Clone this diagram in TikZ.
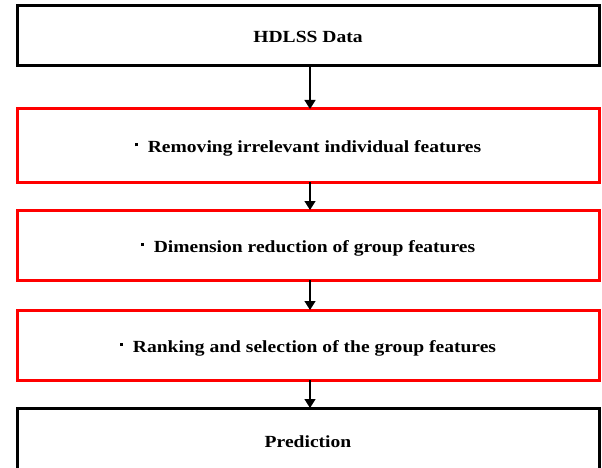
\documentclass[tikz,border=0pt]{standalone}
\usepackage{fontspec}
\setmainfont{Liberation Serif}[FakeStretch=1.15]
\usetikzlibrary{arrows.meta,positioning}

\newcommand{\sqbullet}{\raisebox{0.8ex}{\rule{3pt}{3pt}}\hspace{10pt}}

\begin{document}
\begin{tikzpicture}[
  x=1pt, y=1pt,
  font=\fontsize{17}{20}\selectfont\bfseries,
  box/.style={draw=black, line width=3pt, minimum width=582pt, outer sep=0pt, align=center, text height=14pt, text depth=0pt},
  redbox/.style={box, draw=red},
  arr/.style={-{Triangle[width=11pt,length=9pt]}, line width=1.3pt}
]
  \useasboundingbox (0,0) rectangle (602,-468);

  \node[box, minimum height=60pt] (data) at (308,-36) {HDLSS Data};
  \node[redbox, minimum height=73pt, below=43pt of data] (remove) {\sqbullet Removing irrelevant individual features};
  \node[redbox, minimum height=70pt, below=28pt of remove] (reduce) {\sqbullet Dimension reduction of group features};
  \node[redbox, minimum height=70pt, below=30pt of reduce] (rank) {\sqbullet Ranking and selection of the group features};
  \node[box, minimum height=64pt, below=28pt of rank] (predict) {Prediction};

  \draw[arr] ([xshift=2pt]data.south) -- ([xshift=2pt]remove.north);
  \draw[arr] ([xshift=2pt]remove.south) -- ([xshift=2pt]reduce.north);
  \draw[arr] ([xshift=2pt]reduce.south) -- ([xshift=2pt]rank.north);
  \draw[arr] ([xshift=2pt]rank.south) -- ([xshift=2pt]predict.north);
\end{tikzpicture}
\end{document}
